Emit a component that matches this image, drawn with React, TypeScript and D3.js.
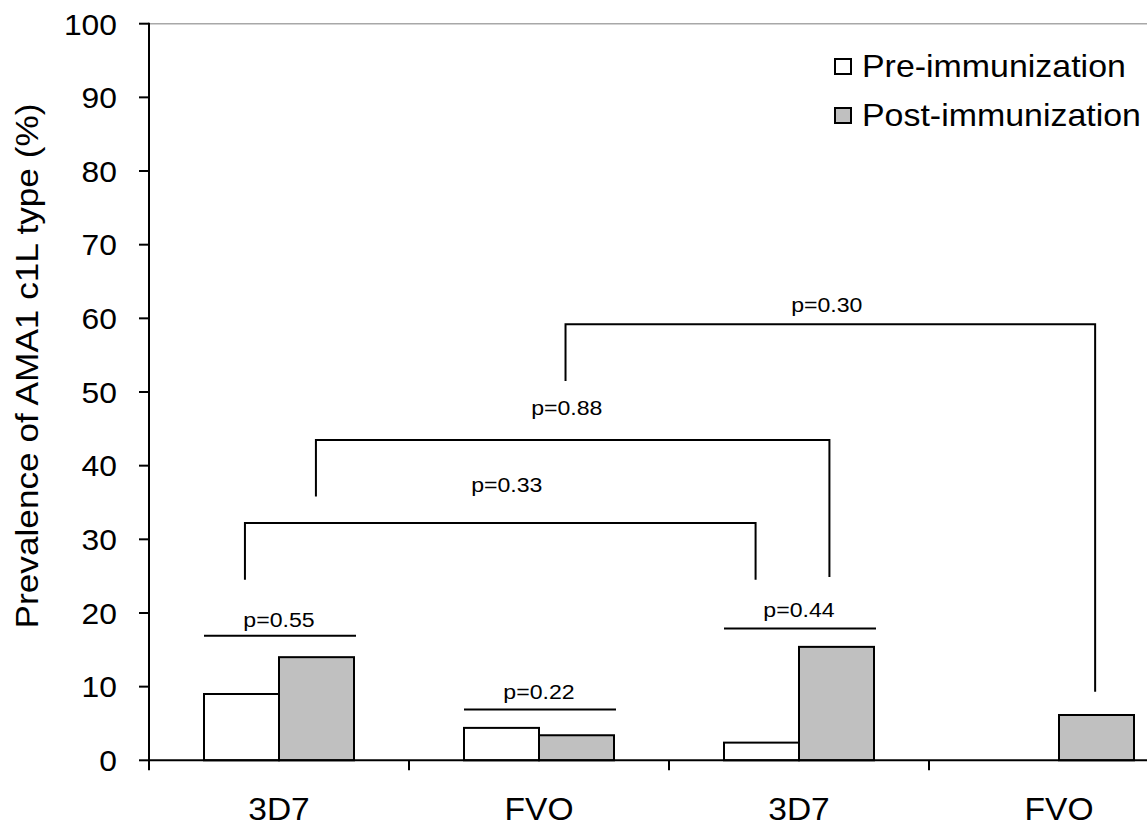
import React from "react";
import * as d3 from "d3";

const categories = ["3D7 (a)", "FVO (a)", "3D7 (b)", "FVO (b)"];
const categoryLabels = ["3D7", "FVO", "3D7", "FVO"];
const seriesNames = ["Pre-immunization", "Post-immunization"];
const preValues = [9.0, 4.4, 2.4, 0];
const postValues = [14.0, 3.4, 15.4, 6.15];
const yTicks = [0, 10, 20, 30, 40, 50, 60, 70, 80, 90, 100];

// within-group comparisons: category index, line level (%), label level (%)
const pairTests = [
  { cat: 0, level: 16.9, labelLevel: 18.1, label: "p=0.55" },
  { cat: 1, level: 6.9, labelLevel: 8.3, label: "p=0.22" },
  { cat: 2, level: 17.9, labelLevel: 19.5, label: "p=0.44" },
];

// between-group brackets: ends given in category-axis units (0..4), levels in %
const bracketTests = [
  { from: 0.369, to: 2.333, level: 32.2, fromEnd: 24.5, toEnd: 24.5, labelPos: 1.376, labelLevel: 36.4, label: "p=0.33" },
  { from: 0.642, to: 2.617, level: 43.5, fromEnd: 35.8, toEnd: 24.9, labelPos: 1.607, labelLevel: 46.9, label: "p=0.88" },
  { from: 1.602, to: 3.639, level: 59.2, fromEnd: 51.5, toEnd: 9.3, labelPos: 2.607, labelLevel: 60.8, label: "p=0.30" },
];

const W = 1147;
const H = 827;
const FONT = "'Liberation Sans', Arial, Helvetica, sans-serif";

function WideText({
  x,
  y,
  size,
  sx,
  anchor = "start",
  rotate = 0,
  children,
}: {
  x: number;
  y: number;
  size: number;
  sx: number;
  anchor?: string;
  rotate?: number;
  children: React.ReactNode;
}) {
  return (
    <text
      transform={`translate(${x},${y}) rotate(${rotate}) scale(${sx},1)`}
      textAnchor={anchor}
      fontSize={size}
      fill="#000"
    >
      {children}
    </text>
  );
}

export default function App() {
  const y = d3.scaleLinear().domain([0, 100]).range([760.3, 23.7]);
  const x0 = d3.scaleBand<string>().domain(categories).range([149, 1189]).padding(0);
  const xc = d3.scaleLinear().domain([0, categories.length]).range([149, 1189]);
  const x1 = d3.scaleBand<string>().domain(["pre", "post"]).range([55, 205]).padding(0);
  const bw = x1.bandwidth();
  const axisX = 149;
  const base = y(0);

  const barLeft = (c: number, s: number) =>
    (x0(categories[c]) as number) + (x1(s === 0 ? "pre" : "post") as number);

  const bars: { x: number; v: number; fill: string; key: string }[] = [];
  categories.forEach((c, i) => {
    if (preValues[i] > 0) bars.push({ x: barLeft(i, 0), v: preValues[i], fill: "#ffffff", key: c + "pre" });
    bars.push({ x: barLeft(i, 1), v: postValues[i], fill: "#c0c0c0", key: c + "post" });
  });

  const boundaries = categories.map((c) => x0(c) as number);

  return (
    <svg
      width={W}
      height={H}
      style={{ position: "absolute", left: 0, top: 0, background: "#fff" }}
      fontFamily={FONT}
    >
      <rect x={0} y={0} width={W} height={H} fill="#fff" />
      {/* top border */}
      <line x1={axisX} x2={W} y1={y(100)} y2={y(100)} stroke="#a8a8a8" strokeWidth={1.5} />

      {/* bars */}
      {bars.map((b) => (
        <rect
          key={b.key}
          x={b.x}
          y={y(b.v)}
          width={bw}
          height={base - y(b.v)}
          fill={b.fill}
          stroke="#000"
          strokeWidth={2}
        />
      ))}

      {/* y axis */}
      <line x1={axisX} x2={axisX} y1={y(100) - 1} y2={base} stroke="#000" strokeWidth={2} />
      {yTicks.map((t) => (
        <g key={t}>
          <line x1={axisX - 10} x2={axisX} y1={y(t)} y2={y(t)} stroke="#000" strokeWidth={2} />
          <WideText x={117} y={y(t) + 10.8} size={30} sx={1.06} anchor="end">
            {t}
          </WideText>
        </g>
      ))}

      {/* x axis */}
      <line x1={axisX - 1} x2={W} y1={base} y2={base} stroke="#000" strokeWidth={2} />
      {boundaries.map((bx, i) => (
        <line key={i} x1={bx} x2={bx} y1={base} y2={base + 10} stroke="#000" strokeWidth={2} />
      ))}
      {categories.map((c, i) => (
        <WideText key={c} x={(x0(c) as number) + x0.bandwidth() / 2} y={819.5} size={30.5} sx={1.1} anchor="middle">
          {categoryLabels[i]}
        </WideText>
      ))}

      {/* y label */}
      <WideText x={37.5} y={366} size={32} sx={1.1} anchor="middle" rotate={-90}>
        Prevalence of AMA1 c1L type (%)
      </WideText>

      {/* pair tests */}
      {pairTests.map((p) => {
        const xa = barLeft(p.cat, 0);
        const xb = barLeft(p.cat, 1) + bw;
        return (
          <g key={p.label}>
            <line x1={xa} x2={xb + 2} y1={y(p.level)} y2={y(p.level)} stroke="#000" strokeWidth={2} />
            <WideText x={(xa + xb) / 2} y={y(p.labelLevel)} size={21} sx={1.1} anchor="middle">
              {p.label}
            </WideText>
          </g>
        );
      })}

      {/* bracket tests */}
      {bracketTests.map((b) => {
        const xa = xc(b.from);
        const xb = xc(b.to);
        const path = d3.path();
        path.moveTo(xa, y(b.fromEnd));
        path.lineTo(xa, y(b.level));
        path.lineTo(xb, y(b.level));
        path.lineTo(xb, y(b.toEnd));
        return (
          <g key={b.label}>
            <path d={path.toString()} fill="none" stroke="#000" strokeWidth={2} />
            <WideText x={xc(b.labelPos)} y={y(b.labelLevel)} size={21} sx={1.1} anchor="middle">
              {b.label}
            </WideText>
          </g>
        );
      })}

      {/* legend */}
      {seriesNames.map((s, i) => (
        <g key={s}>
          <rect
            x={835}
            y={59 + i * 49}
            width={16}
            height={15}
            fill={i === 0 ? "#ffffff" : "#c0c0c0"}
            stroke="#000"
            strokeWidth={2}
          />
          <WideText x={862} y={76.5 + i * 49} size={32} sx={1.06}>
            {s}
          </WideText>
        </g>
      ))}
    </svg>
  );
}
